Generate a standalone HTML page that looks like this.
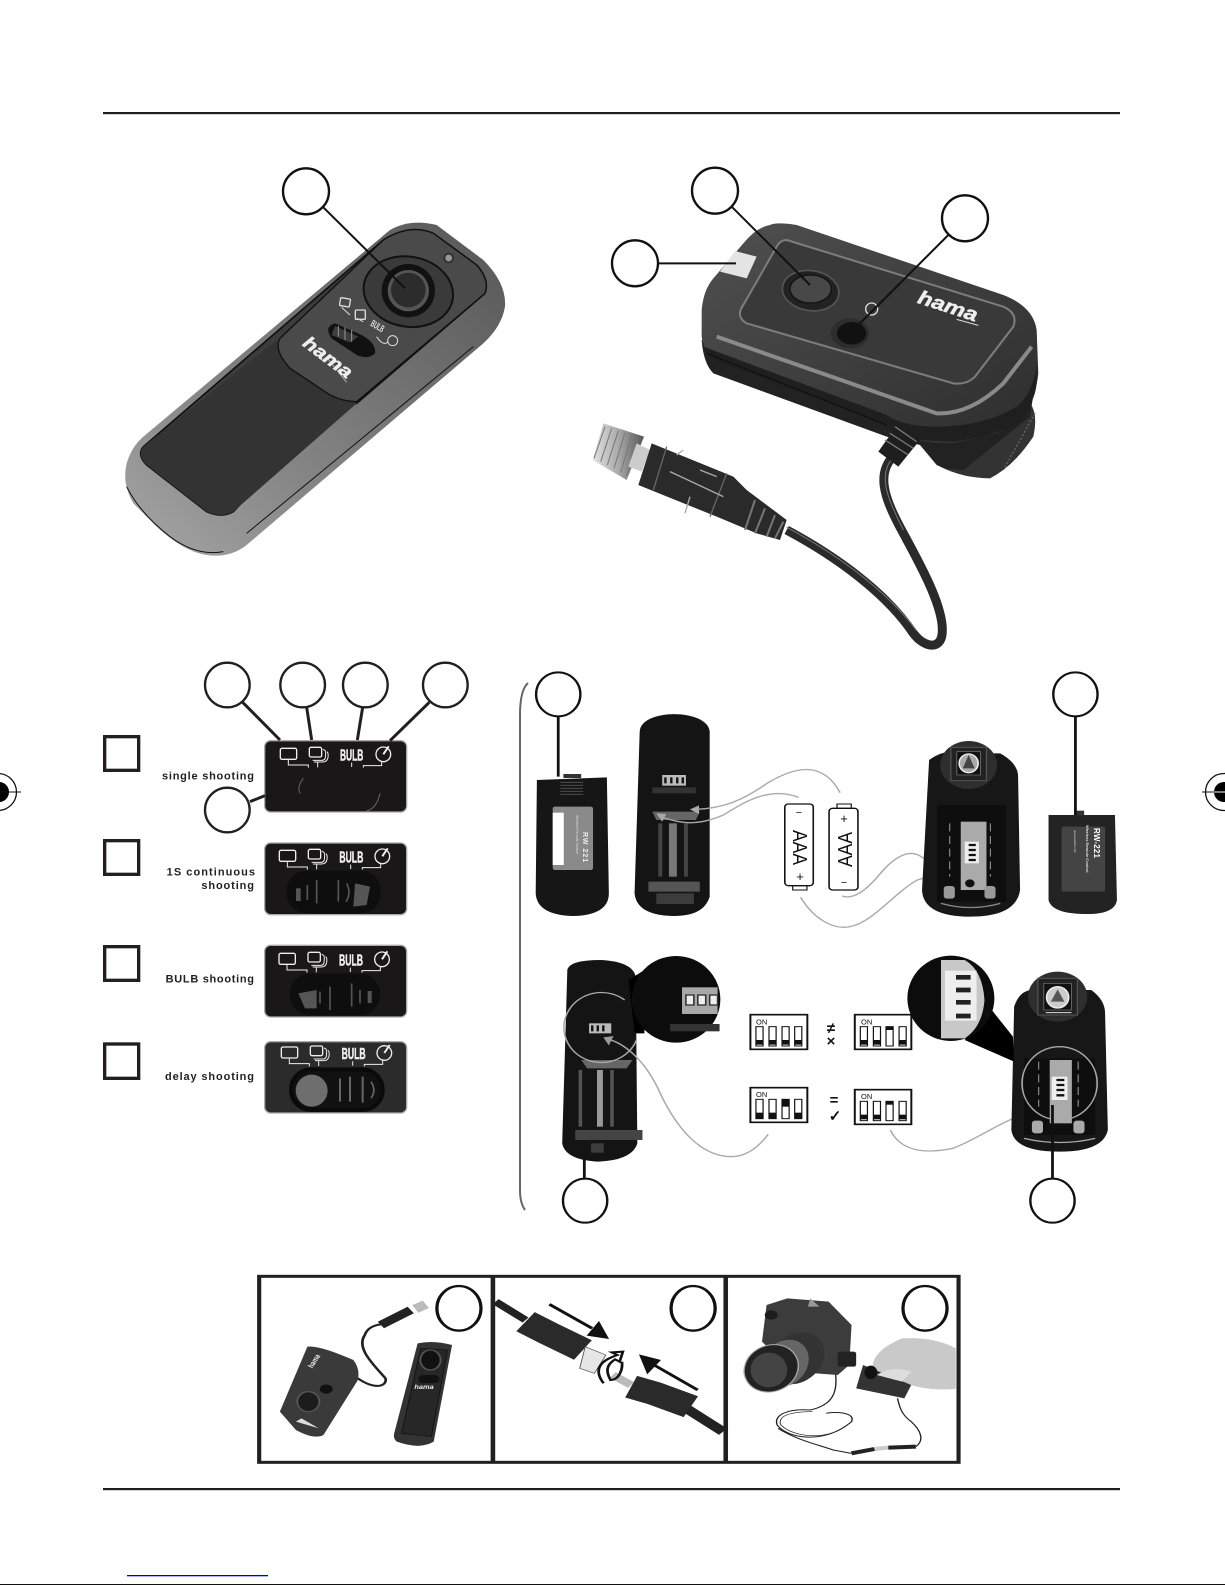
<!DOCTYPE html>
<html lang="en">
<head>
<meta charset="utf-8">
<title>Wireless remote control diagram</title>
<style>
html,body{margin:0;padding:0;background:#fff;width:1225px;height:1585px;overflow:hidden}
svg{display:block;font-family:"Liberation Sans",sans-serif}
</style>
</head>
<body>
<svg xmlns="http://www.w3.org/2000/svg" width="1225" height="1585" viewBox="0 0 1225 1585">
<defs>
<linearGradient id="rb" x1="0" y1="1" x2="1" y2="0">
<stop offset="0" stop-color="#a6a6a6"/><stop offset=".35" stop-color="#858585"/><stop offset="1" stop-color="#565656"/>
</linearGradient>
<linearGradient id="dv" x1="0" y1="0" x2="1" y2="1">
<stop offset="0" stop-color="#505050"/><stop offset="1" stop-color="#2d2d2d"/>
</linearGradient>
<linearGradient id="kn" x1="0" y1="0" x2="1" y2="0">
<stop offset="0" stop-color="#e2e2e2"/><stop offset=".5" stop-color="#aaa"/><stop offset="1" stop-color="#555"/>
</linearGradient>
<g id="ic" fill="none" stroke="#eee" stroke-width="4">
<rect x="571" y="295" width="49" height="33" rx="5"/>
<path d="M595 328V345H655V353" stroke-width="3"/>
<rect x="658" y="292" width="37" height="29" rx="5"/>
<path d="M699 298q9 2 8 12l-1 14q-3 7-10 7h-28M711 305q5 5 3 18q-3 13-16 13h-26" stroke-width="3"/>
<path d="M683 336V352M785 338V351M875 334V347H820V353" stroke-width="3"/>
<circle cx="880" cy="313" r="22" stroke-width="4"/>
<path d="M880 313L896 289" stroke-width="6"/>
</g>
</defs>

<rect width="1225" height="1585" fill="#fff"/>
<rect x="103" y="112" width="1017" height="2.2" fill="#231f20"/>
<rect x="103" y="1488" width="1017" height="2.2" fill="#231f20"/>
<rect x="127" y="1575" width="141" height="1.3" fill="#0000cc"/>
<rect x="0" y="1584" width="1225" height="1" fill="#111"/>

<!-- registration marks -->
<circle cx="-2" cy="792" r="18.5" fill="none" stroke="#111" stroke-width="1.3"/>
<circle cx="-1" cy="792" r="10" fill="#000"/>
<path d="M0 792H21" stroke="#111" stroke-width="1"/>
<circle cx="1224" cy="792" r="18.5" fill="none" stroke="#111" stroke-width="1.3"/>
<circle cx="1224" cy="792" r="10" fill="#000"/>
<path d="M1202 792H1225" stroke="#111" stroke-width="1"/>
<path d="M1214 792H1225" stroke="#fff" stroke-width="1"/>

<!-- remote photo -->
<g transform="translate(90,150) scale(.33333)">
<path d="M900 240Q960 205 1040 225L1180 330Q1250 400 1245 470Q1235 530 1180 580L470 1185Q420 1225 350 1215Q280 1205 200 1130L130 1060Q95 1000 110 940Q125 890 160 860Z" fill="url(#rb)"/>
<path d="M110 1010Q150 1090 240 1160Q320 1220 400 1205M470 1150L1150 590" fill="none" stroke="#111" stroke-width="3"/>
<path d="M880 270Q960 220 1030 250L1160 345Q1200 390 1185 430L800 760Q770 770 740 755L430 1085Q395 1105 350 1085L170 945Q140 915 160 890Z" fill="#3c3c3c" stroke="#111" stroke-width="5"/>
<path d="M560 570L800 760L430 1085Q395 1105 350 1085L170 945Q140 915 160 890Z" fill="#333"/>
<path d="M880 270Q960 220 1030 250L1160 345Q1200 390 1185 430L800 755Q760 755 720 735L600 655Q550 600 570 565Z" fill="#4a4a4a" stroke="#111" stroke-width="4"/>
<circle cx="1076" cy="324" r="16" fill="#333"/><circle cx="1076" cy="324" r="10" fill="#999"/>
<ellipse cx="955" cy="425" rx="135" ry="105" transform="rotate(10 955 425)" fill="#3a3a3a" stroke="#111" stroke-width="6"/>
<circle cx="955" cy="422" r="80" fill="#111"/><circle cx="955" cy="422" r="62" fill="#555"/><circle cx="955" cy="420" r="52" fill="#2c2c2c"/>
<path d="M735 520L815 555Q860 580 855 610Q835 630 800 615L725 565Q700 530 735 520Z" fill="#111"/>
<path d="M735 528L805 560L780 578L725 555Z" fill="#3d3d3d"/>
<path d="M745 528V560M765 532V570M785 540V575" stroke="#999" stroke-width="3"/>
<rect x="750" y="445" width="30" height="24" rx="3" fill="none" stroke="#ddd" stroke-width="4" transform="rotate(10 765 457)"/>
<path d="M755 472L780 495M800 505L820 515" stroke="#ddd" stroke-width="3"/>
<rect x="796" y="480" width="30" height="28" rx="3" fill="none" stroke="#ddd" stroke-width="4"/>
<text x="838" y="538" font-size="30" font-weight="700" fill="#ddd" textLength="42" lengthAdjust="spacingAndGlyphs" transform="rotate(30 860 535)">BULB</text>
<path d="M860 560Q880 590 895 575" fill="none" stroke="#ddd" stroke-width="3"/><circle cx="908" cy="572" r="15" fill="none" stroke="#ddd" stroke-width="3"/>
<text x="635" y="585" font-size="54" font-weight="700" font-style="italic" fill="#eee" stroke="#eee" stroke-width="1.5" textLength="170" lengthAdjust="spacingAndGlyphs" transform="rotate(37 635 585)">hama</text>
<path d="M715 628L770 697" stroke="#ddd" stroke-width="2"/>
<circle cx="648" cy="124" r="69" fill="#fff" stroke="#111" stroke-width="7"/>
<path d="M698 170L945 415" stroke="#111" stroke-width="6"/>
</g>

<!-- receiver photo -->
<g transform="translate(570,150) scale(.33333)">
<path d="M1380 760Q1405 790 1390 860Q1330 950 1260 985Q1180 985 1110 950L1090 880Z" fill="#333"/>
<path d="M1395 790L1300 960" stroke="#666" stroke-width="4" stroke-dasharray="6 6"/>
<path d="M395 570Q400 640 430 670L950 860L1050 885L1100 945Q1130 960 1180 960L1380 800L1400 670L1300 800Z" fill="#222"/>
<path d="M600 225Q620 215 680 225L1300 435Q1390 470 1400 540L1405 670Q1400 720 1380 760Q1330 830 1280 850L1150 880Q1080 880 1040 870L960 825L480 650Q400 620 395 560L395 480Q400 420 430 385L520 280Q560 232 600 225Z" fill="url(#dv)"/>
<path d="M400 590L950 795Q1000 830 1100 830Q1240 830 1340 770Q1390 730 1400 640V700Q1395 760 1340 820Q1270 860 1150 875L1050 870L960 825L480 650Q410 630 400 590Z" fill="#1f1f1f"/>
<path d="M440 560L1100 790Q1200 795 1300 700L1385 590" fill="none" stroke="#8a8a8a" stroke-width="12"/>
<path d="M650 270L1300 470Q1345 490 1330 530L1215 680Q1190 705 1150 700L530 520Q495 500 520 465L620 290Q630 270 650 270Z" fill="#393939" stroke="#7d7d7d" stroke-width="6"/>
<path d="M410 610L950 825" stroke="#111" stroke-width="4"/>
<path d="M495 303L560 320L530 385L450 365Z" fill="#e4e4e4"/>
<ellipse cx="722" cy="422" rx="85" ry="60" transform="rotate(8 722 422)" fill="#222" stroke="#555" stroke-width="5"/>
<ellipse cx="722" cy="417" rx="62" ry="42" fill="#484848" stroke="#111" stroke-width="4"/>
<ellipse cx="840" cy="550" rx="58" ry="45" fill="#2d2d2d"/>
<ellipse cx="845" cy="550" rx="44" ry="34" fill="#111"/>
<circle cx="905" cy="477" r="18" fill="none" stroke="#ddd" stroke-width="4"/>
<text x="1040" y="458" font-size="58" font-weight="700" font-style="italic" fill="#eee" stroke="#eee" stroke-width="1.5" textLength="185" lengthAdjust="spacingAndGlyphs" transform="rotate(18 1040 458)">hama</text>
<path d="M1160 508L1225 526" stroke="#ddd" stroke-width="3"/>
<path d="M650 1140C800 1220 950 1330 1030 1450C1060 1490 1105 1500 1115 1460C1130 1390 1060 1260 1000 1150C940 1040 910 960 990 900" fill="none" stroke="#2a2a2a" stroke-width="27"/>
<path d="M650 1132C800 1212 950 1322 1040 1442M1000 1140C950 1040 920 970 975 915" fill="none" stroke="#777" stroke-width="3"/>
<path d="M925 905L985 820L1050 870L985 950Z" fill="#1e1e1e"/>
<path d="M945 870L1015 915M960 850L1030 895M975 830L1040 875" stroke="#777" stroke-width="4"/>
<path d="M100 820L222 860L170 990L68 930Z" fill="url(#kn)"/>
<path d="M105 830L72 925M125 835L92 935M145 842L112 945M165 848L132 955M185 855L152 968M205 860L170 980" stroke="#777" stroke-width="3"/>
<path d="M200 880L240 900L215 965L175 950Z" fill="#ccc"/>
<path d="M245 880L490 980L530 1020L650 1110L630 1170L560 1150L440 1100L205 1005Z" fill="#2a2a2a"/>
<path d="M290 890L250 1020M470 970L420 1100" stroke="#666" stroke-width="4"/>
<path d="M300 965L460 1040M340 900L320 915M360 1040L345 1090M390 960L440 980" stroke="#aaa" stroke-width="4"/>
<path d="M555 1050L525 1140M585 1075L555 1150M615 1095L590 1160M640 1115L615 1165" stroke="#777" stroke-width="6"/>
<circle cx="435" cy="122" r="69" fill="#fff" stroke="#111" stroke-width="7"/>
<circle cx="195" cy="340" r="69" fill="#fff" stroke="#111" stroke-width="7"/>
<circle cx="1185" cy="205" r="69" fill="#fff" stroke="#111" stroke-width="7"/>
<path d="M485 170L720 405M262 340H498M1135 255L845 545" stroke="#111" stroke-width="6"/>
</g>

<!-- mode panels -->
<g transform="translate(90,650) scale(.33333)">
<g fill="#fff" stroke="#231f20" stroke-width="10">
<rect x="44" y="260" width="102" height="101"/>
<rect x="44" y="572" width="102" height="101"/>
<rect x="44" y="890" width="102" height="101"/>
<rect x="44" y="1182" width="102" height="103"/>
</g>
<g fill="#1a1718" stroke="#aaa" stroke-width="4">
<rect x="524" y="272" width="426" height="214" rx="18"/>
<rect x="524" y="579" width="426" height="215" rx="18"/>
<rect x="524" y="886" width="426" height="215" rx="18"/>
<rect x="524" y="1175" width="426" height="214" rx="18" fill="#2b2b2b"/>
</g>
<path d="M640 385Q620 410 630 430M870 430Q860 475 830 483" fill="none" stroke="#666" stroke-width="3"/>
<rect x="590" y="662" width="282" height="128" rx="60" fill="#0e0e0e"/>
<rect x="600" y="970" width="270" height="126" rx="60" fill="#0e0e0e"/>
<rect x="603" y="1258" width="275" height="122" rx="60" fill="#111" stroke="#0a0a0a" stroke-width="12"/>
<path d="M680 690V760M745 690V755M770 700Q785 730 768 755M652 705V750" stroke="#555" stroke-width="5" fill="none"/>
<path d="M795 700L840 710L830 765L790 770Z" fill="#555"/>
<rect x="618" y="715" width="14" height="38" fill="#555"/>
<path d="M720 1010V1080M785 1000V1070M690 1025V1060M810 1020V1060" stroke="#555" stroke-width="5"/>
<path d="M625 1030L680 1020L680 1075L645 1075Z" fill="#555"/><rect x="833" y="1023" width="12" height="36" fill="#555"/>
<ellipse cx="665" cy="1322" rx="48" ry="48" fill="#6e6e6e"/>
<path d="M750 1285V1355M780 1280V1355M818 1280V1358" stroke="#666" stroke-width="6"/>
<path d="M843 1295Q860 1320 843 1345" fill="none" stroke="#666" stroke-width="5"/>
<use href="#ic"/><use href="#ic" transform="translate(-3,306)"/><use href="#ic" transform="translate(-4,615)"/><use href="#ic" transform="translate(3,896)"/>
<g font-weight="700" fill="#eee" stroke="#eee" stroke-width="1.5" font-size="46">
<text x="750" y="332" textLength="70" lengthAdjust="spacingAndGlyphs">BULB</text>
<text x="748" y="637" textLength="72" lengthAdjust="spacingAndGlyphs">BULB</text>
<text x="747" y="946" textLength="72" lengthAdjust="spacingAndGlyphs">BULB</text>
<text x="755" y="1227" textLength="72" lengthAdjust="spacingAndGlyphs">BULB</text>
</g>
<g font-weight="700" font-size="33" fill="#231f20">
<text x="216" y="388" textLength="276">single shooting</text>
<text x="230" y="677" textLength="265">1S continuous</text>
<text x="334" y="717" textLength="158">shooting</text>
<text x="227" y="998" textLength="265">BULB shooting</text>
<text x="225" y="1290" textLength="267">delay shooting</text>
</g>
<g fill="#fff" stroke="#231f20" stroke-width="7">
<circle cx="412" cy="105" r="67"/><circle cx="638" cy="105" r="67"/><circle cx="826" cy="105" r="67"/><circle cx="1066" cy="105" r="67"/><circle cx="412" cy="480" r="67"/>
</g>
<path d="M458 157L570 270M650 172L665 270M818 172L802 270M1018 157L900 272M480 455L525 437" stroke="#231f20" stroke-width="9"/>
</g>

<!-- bracket -->
<path d="M528 683Q520 690 520 715V1190Q520 1203 525 1210" fill="none" stroke="#666" stroke-width="2"/>

<!-- batteries step row -->
<g transform="translate(510,660) scale(.39540,.33333)">
<path d="M68 360L245 352L250 700Q250 765 160 768Q68 765 65 700Z" fill="#161616"/>
<rect x="135" y="342" width="45" height="12" fill="#333"/>
<path d="M127 367H185M127 376H185M127 385H185M127 394H185M127 403H185" stroke="#555" stroke-width="2.5"/>
<rect x="108" y="440" width="102" height="190" rx="6" fill="#8a8a8a"/>
<rect x="108" y="458" width="28" height="157" fill="#fff"/>
<path d="M328 215C330 145 500 145 505 215L505 710Q490 770 410 768Q320 765 315 700Z" fill="#141414"/>
<rect x="385" y="345" width="60" height="32" fill="#bbb"/>
<path d="M393 352V370M408 352V370M423 352V370M437 352V370" stroke="#111" stroke-width="6"/>
<rect x="360" y="382" width="110" height="18" fill="#333"/>
<path d="M360 455H480L470 480H370Z" fill="#666"/>
<rect x="402" y="490" width="20" height="160" fill="#777"/>
<path d="M380 490V650M445 490V650" stroke="#444" stroke-width="10"/>
<rect x="350" y="665" width="130" height="30" fill="#555"/>
<rect x="370" y="700" width="95" height="32" fill="#3c3c3c"/>
<path d="M835 398C790 300 720 320 650 370C590 420 540 445 470 448" fill="none" stroke="#aaa" stroke-width="4"/>
<path d="M730 412C660 380 600 420 540 465C470 500 430 490 380 470" fill="none" stroke="#aaa" stroke-width="4"/>
<polygon points="455,448 478,436 478,462" fill="#aaa"/><polygon points="370,460 395,462 385,485" fill="#aaa"/>
<path d="M840 708C870 720 900 690 930 650C970 590 1010 565 1040 590C1060 605 1085 620 1115 630" fill="none" stroke="#aaa" stroke-width="4"/>
<path d="M735 712C770 780 820 810 860 800C920 785 970 700 1030 660C1080 640 1160 650 1215 672" fill="none" stroke="#aaa" stroke-width="4"/>
<polygon points="1118,632 1088,628 1100,612" fill="#999"/><polygon points="1220,674 1192,668 1205,652" fill="#999"/>
<rect x="715" y="677" width="36" height="13" fill="#fff" stroke="#111" stroke-width="3"/>
<rect x="695" y="432" width="72" height="245" rx="9" fill="#fff" stroke="#111" stroke-width="4"/>
<rect x="827" y="432" width="36" height="13" fill="#fff" stroke="#111" stroke-width="3"/>
<rect x="807" y="445" width="73" height="245" rx="9" fill="#fff" stroke="#111" stroke-width="4"/>
<path d="M1060 300Q1100 265 1140 280L1240 280Q1285 310 1285 350L1290 690Q1280 770 1165 770Q1045 770 1042 690Z" fill="#171717"/>
<circle cx="1160" cy="315" r="72" fill="#2e2e2e"/>
<rect x="1115" y="262" width="90" height="100" fill="#222" stroke="#555" stroke-width="3"/>
<rect x="1130" y="275" width="60" height="70" fill="#111" stroke="#777" stroke-width="2"/>
<ellipse cx="1160" cy="310" rx="24" ry="28" fill="#aaa" stroke="#eee" stroke-width="4"/>
<polygon points="1160,285 1175,325 1145,325" fill="#444"/>
<rect x="1080" y="435" width="175" height="290" fill="#0e0e0e"/>
<rect x="1140" y="485" width="65" height="205" fill="#aaa"/>
<rect x="1150" y="545" width="36" height="65" fill="#eee"/>
<path d="M1160 555H1178M1160 570H1178M1160 585H1178M1160 600H1178" stroke="#111" stroke-width="7"/>
<path d="M1112 490V650M1215 490V650" stroke="#888" stroke-width="3" stroke-dasharray="24 14"/>
<rect x="1097" y="678" width="28" height="38" rx="8" fill="#999"/><rect x="1200" y="678" width="28" height="38" rx="8" fill="#999"/>
<circle cx="1163" cy="670" r="12" fill="#111"/>
<path d="M1090 730Q1165 755 1240 730" fill="none" stroke="#888" stroke-width="4"/>
<path d="M1362 465L1530 465L1535 720Q1530 765 1450 762Q1370 760 1362 720Z" fill="#232323"/>
<rect x="1432" y="452" width="20" height="14" fill="#333"/>
<rect x="1395" y="500" width="110" height="195" rx="5" fill="#444"/>
<path d="M122 170V350M1430 170V465" stroke="#111" stroke-width="7"/>
<ellipse cx="122" cy="103" rx="56" ry="66" fill="#fff" stroke="#111" stroke-width="6"/>
<ellipse cx="1430" cy="103" rx="56" ry="66" fill="#fff" stroke="#111" stroke-width="6"/>
</g>
<text transform="translate(583,832) rotate(90)" font-size="7" font-weight="700" fill="#eee" letter-spacing="1">RW 221</text>
<text transform="translate(576,815) rotate(90)" font-size="3.5" fill="#ddd">Wireless Remote Control</text>
<text transform="translate(1094,828) rotate(90)" font-size="8" font-weight="700" fill="#fff" textLength="30">RW-221</text>
<text transform="translate(1086,825) rotate(90)" font-size="4" font-weight="700" fill="#ddd">Wireless Remote Control</text>
<text transform="translate(1074,830) rotate(90)" font-size="3" fill="#ddd">www.pixelhk.com</text>
<text transform="translate(793,830) rotate(90)" font-size="20" fill="#111" textLength="35" lengthAdjust="spacingAndGlyphs">AAA</text>
<text transform="translate(852,867) rotate(-90)" font-size="20" fill="#111" textLength="35" lengthAdjust="spacingAndGlyphs">AAA</text>
<text x="799" y="816" text-anchor="middle" font-size="11" fill="#111">−</text>
<text x="800" y="881" text-anchor="middle" font-size="13" fill="#111">+</text>
<text x="844" y="823" text-anchor="middle" font-size="13" fill="#111">+</text>
<text x="844" y="886" text-anchor="middle" font-size="11" fill="#111">−</text>

<!-- DIP row -->
<g transform="translate(510,940) scale(.39540,.33333)">
<path d="M145 90Q150 60 230 60Q310 65 318 110L322 610Q310 660 225 665Q140 660 132 610Z" fill="#141414"/>
<polygon points="300,120 340,90 340,280 315,280" fill="#000"/>
<ellipse cx="420" cy="178" rx="112" ry="130" fill="#0c0c0c"/>
<rect x="435" y="142" width="90" height="80" fill="#a8a8a8"/>
<rect x="445" y="165" width="20" height="30" fill="#eee" stroke="#333" stroke-width="4"/>
<rect x="475" y="165" width="20" height="30" fill="#eee" stroke="#333" stroke-width="4"/>
<rect x="505" y="165" width="20" height="30" fill="#eee" stroke="#333" stroke-width="4"/>
<rect x="405" y="252" width="125" height="22" fill="#333"/>
<rect x="200" y="250" width="56" height="30" fill="#bbb"/>
<path d="M208 256V274M222 256V274M236 256V274" stroke="#111" stroke-width="6"/>
<path d="M180 360H310L295 385H195Z" fill="#666"/>
<rect x="220" y="390" width="15" height="170" fill="#999"/>
<path d="M178 390V560M258 390V560" stroke="#555" stroke-width="9"/>
<rect x="165" y="570" width="170" height="30" fill="#444"/>
<rect x="205" y="610" width="32" height="28" fill="#3c3c3c"/>
<path d="M290 180A95 105 0 1 0 320 300" fill="none" stroke="#aaa" stroke-width="4"/>
<path d="M653 583Q610 650 560 650C480 650 420 560 380 460C350 380 300 310 240 295" fill="none" stroke="#aaa" stroke-width="4"/>
<polygon points="236,292 262,288 250,316" fill="#999"/>
<path d="M962 570C990 640 1060 640 1120 625C1200 590 1290 500 1345 525" fill="none" stroke="#aaa" stroke-width="4"/>
<polygon points="1350,528 1320,530 1330,508" fill="#999"/>
<!-- DIP panels -->
<g fill="#fff" stroke="#111" stroke-width="5">
<rect x="608" y="224" width="144" height="104"/><rect x="872" y="224" width="143" height="104"/>
<rect x="608" y="443" width="144" height="104"/><rect x="872" y="449" width="143" height="104"/>
</g>
<g fill="#fff" stroke="#111" stroke-width="3">
<rect x="622" y="260" width="18" height="58"/><rect x="655" y="260" width="18" height="58"/><rect x="688" y="260" width="18" height="58"/><rect x="720" y="260" width="18" height="58"/>
<rect x="886" y="260" width="18" height="58"/><rect x="919" y="260" width="18" height="58"/><rect x="951" y="260" width="18" height="58"/><rect x="984" y="260" width="18" height="58"/>
<rect x="622" y="478" width="18" height="58"/><rect x="655" y="478" width="18" height="58"/><rect x="688" y="478" width="18" height="58"/><rect x="720" y="478" width="18" height="58"/>
<rect x="886" y="484" width="18" height="58"/><rect x="919" y="484" width="18" height="58"/><rect x="951" y="484" width="18" height="58"/><rect x="984" y="484" width="18" height="58"/>
</g>
<g fill="#111">
<rect x="622" y="300" width="18" height="14"/><rect x="655" y="300" width="18" height="14"/><rect x="688" y="300" width="18" height="14"/><rect x="720" y="300" width="18" height="14"/>
<rect x="886" y="300" width="18" height="14"/><rect x="919" y="300" width="18" height="14"/><rect x="951" y="260" width="18" height="10"/><rect x="984" y="300" width="18" height="14"/>
<rect x="622" y="518" width="18" height="18"/><rect x="655" y="518" width="18" height="18"/><rect x="688" y="478" width="18" height="22"/><rect x="720" y="518" width="18" height="18"/>
<rect x="886" y="524" width="18" height="14"/><rect x="919" y="524" width="18" height="14"/><rect x="951" y="484" width="18" height="10"/><rect x="984" y="524" width="18" height="14"/>
</g>
<!-- receiver 2 -->
<path d="M1275 200Q1290 145 1330 150L1470 150Q1505 180 1505 220L1512 570Q1500 635 1390 635Q1275 635 1268 570Z" fill="#171717"/>
<circle cx="1385" cy="170" r="75" fill="#2e2e2e"/>
<rect x="1335" y="115" width="100" height="110" fill="#222" stroke="#555" stroke-width="3"/>
<rect x="1350" y="130" width="70" height="80" fill="#111" stroke="#777" stroke-width="2"/>
<ellipse cx="1385" cy="172" rx="28" ry="32" fill="#ccc" stroke="#eee" stroke-width="4"/>
<polygon points="1385,148 1402,185 1368,185" fill="#555"/>
<path d="M1355 218H1420" stroke="#ddd" stroke-width="3"/>
<polygon points="1205,190 1272,290 1275,365 1150,300" fill="#000"/>
<ellipse cx="1115" cy="175" rx="110" ry="128" fill="#0c0c0c"/>
<path d="M1090 60H1150Q1195 90 1200 180Q1195 260 1150 295H1090Z" fill="#c8c8c8"/>
<rect x="1100" y="92" width="80" height="150" fill="#eee"/>
<path d="M1128 112H1165M1128 150H1165M1128 187H1165M1128 228H1165" stroke="#222" stroke-width="14"/>
<rect x="1300" y="355" width="180" height="230" fill="#0e0e0e"/>
<rect x="1365" y="360" width="56" height="190" fill="#aaa"/>
<rect x="1370" y="410" width="40" height="70" fill="#eee"/>
<path d="M1382 420H1402M1382 435H1402M1382 450H1402M1382 466H1402" stroke="#111" stroke-width="7"/>
<path d="M1337 365V500M1437 365V500" stroke="#888" stroke-width="3" stroke-dasharray="24 14"/>
<rect x="1320" y="542" width="28" height="38" rx="8" fill="#aaa"/><rect x="1425" y="542" width="28" height="38" rx="8" fill="#aaa"/>
<path d="M1300 595Q1390 620 1480 595" fill="none" stroke="#aaa" stroke-width="4"/>
<ellipse cx="1390" cy="430" rx="95" ry="110" fill="none" stroke="#aaa" stroke-width="4"/>
<path d="M188 640V715M1372 495V715" stroke="#111" stroke-width="7"/>
<ellipse cx="190" cy="782" rx="56" ry="66" fill="#fff" stroke="#111" stroke-width="6"/>
<ellipse cx="1372" cy="782" rx="56" ry="66" fill="#fff" stroke="#111" stroke-width="6"/>
</g>
<g font-size="7.5" fill="#111">
<text x="756" y="1024.5">ON</text><text x="861" y="1024.5">ON</text><text x="756" y="1097">ON</text><text x="861" y="1099">ON</text>
</g>
<g font-size="15" font-weight="700" fill="#111" text-anchor="middle">
<text x="831" y="1033">≠</text><text x="831" y="1046">×</text><text x="834" y="1105">=</text><text x="835" y="1121">✓</text>
</g>

<!-- bottom three steps -->
<g transform="translate(250,1265) scale(.45920,.33333)">
<rect x="20" y="34" width="1523" height="558" fill="#fff" stroke="#231f20" stroke-width="9"/>
<path d="M529 34V592M1036 34V592" stroke="#231f20" stroke-width="10"/>
<!-- panel 1 -->
<path d="M125 245Q150 240 225 285Q240 310 235 345L160 510Q140 525 100 495L65 440Z" fill="#3a3a3a"/>
<path d="M100 470L150 490L112 460Z" fill="#ddd"/>
<ellipse cx="127" cy="410" rx="24" ry="30" fill="#1c1c1c" stroke="#555" stroke-width="4"/>
<circle cx="166" cy="372" r="14" fill="#111"/>
<path d="M365 235Q400 225 440 240L400 530Q370 555 320 530Q310 520 315 500Z" fill="#333"/>
<path d="M372 250L430 255L395 515L330 505Z" fill="#272727" stroke="#111" stroke-width="2"/>
<ellipse cx="393" cy="285" rx="22" ry="30" fill="#111" stroke="#555" stroke-width="4"/>
<rect x="367" y="330" width="45" height="24" rx="10" fill="#111"/>
<text x="358" y="372" font-size="18" font-weight="700" font-style="italic" fill="#eee" textLength="42" lengthAdjust="spacingAndGlyphs">hama</text>
<path d="M235 340C270 375 300 365 295 340C270 300 230 250 250 210C255 190 270 180 285 178" fill="none" stroke="#222" stroke-width="6"/>
<path d="M285 180L350 135" stroke="#222" stroke-width="24"/>
<path d="M360 132L383 118" stroke="#bbb" stroke-width="26"/>
<text x="136" y="310" transform="rotate(-65 136 310)" font-size="18" font-weight="700" font-style="italic" fill="#eee" textLength="42" lengthAdjust="spacingAndGlyphs">hama</text>
<!-- panel 2 -->
<path d="M535 110L600 165" stroke="#222" stroke-width="20"/>
<path d="M600 170L650 205L725 255" stroke="#2a2a2a" stroke-width="70"/>
<path d="M730 245L775 270L750 325L718 310Z" fill="#e6e6e6" stroke="#555" stroke-width="2"/>
<path d="M1030 500L950 430" stroke="#222" stroke-width="26"/>
<path d="M960 425L880 385L830 365" stroke="#2a2a2a" stroke-width="70"/>
<path d="M790 330L830 360" stroke="#bbb" stroke-width="22"/>
<path d="M652 118L745 190" stroke="#111" stroke-width="8"/><polygon points="782,222 733,212 760,168" fill="#111"/>
<path d="M975 375L880 300" stroke="#111" stroke-width="8"/><polygon points="847,268 865,328 895,285" fill="#111"/>
<path d="M770 355C740 300 780 280 800 270L788 262L812 260L805 290L795 283C775 300 775 320 785 345C805 345 812 310 810 290" fill="none" stroke="#111" stroke-width="6"/>
<!-- panel 3 -->
<path d="M1275 325C1280 380 1270 420 1220 435C1170 430 1140 450 1148 480C1170 520 1250 540 1310 470C1320 440 1270 440 1255 445" fill="none" stroke="#222" stroke-width="3"/>
<path d="M1225 440C1180 440 1150 450 1155 478C1175 510 1240 530 1290 490" fill="none" stroke="#222" stroke-width="2"/>
<path d="M1150 490C1190 525 1240 540 1270 555L1310 565M1450 545C1470 525 1460 495 1440 470C1420 450 1415 430 1410 400" fill="none" stroke="#222" stroke-width="3"/>
<path d="M1310 565L1360 552" stroke="#222" stroke-width="12"/><path d="M1360 552L1390 548" stroke="#ccc" stroke-width="12"/><path d="M1390 548L1450 545" stroke="#222" stroke-width="12"/>
<path d="M1125 120L1170 100L1260 110L1310 180L1305 300L1280 330L1180 320L1115 230Z" fill="#3c3c3c"/>
<circle cx="1135" cy="150" r="14" fill="#1c1c1c"/><path d="M1220 100L1240 125L1215 125Z" fill="#999"/>
<ellipse cx="1190" cy="280" rx="58" ry="80" transform="rotate(20 1190 280)" fill="#333"/>
<ellipse cx="1165" cy="295" rx="50" ry="72" transform="rotate(15 1165 295)" fill="#666"/>
<ellipse cx="1135" cy="310" rx="58" ry="72" transform="rotate(15 1135 310)" fill="#222" stroke="#aaa" stroke-width="3"/>
<ellipse cx="1130" cy="315" rx="40" ry="52" fill="#444"/>
<rect x="1280" y="260" width="40" height="45" rx="6" fill="#222"/>
<path d="M1355 320Q1350 260 1420 220Q1490 215 1537 250L1537 372Q1470 380 1420 350Z" fill="#c9c9c9"/>
<path d="M1320 370L1335 300L1440 360L1425 400Z" fill="#333"/>
<ellipse cx="1352" cy="322" rx="14" ry="20" fill="#111"/>
<path d="M1365 330Q1400 300 1440 320L1420 350Z" fill="#ddd"/>
<g fill="#fff" stroke="#111" stroke-width="7">
<ellipse cx="455" cy="130" rx="48" ry="67"/><ellipse cx="965" cy="130" rx="48" ry="67"/><ellipse cx="1470" cy="130" rx="48" ry="67"/>
</g>
</g>
</svg>
</body>
</html>
